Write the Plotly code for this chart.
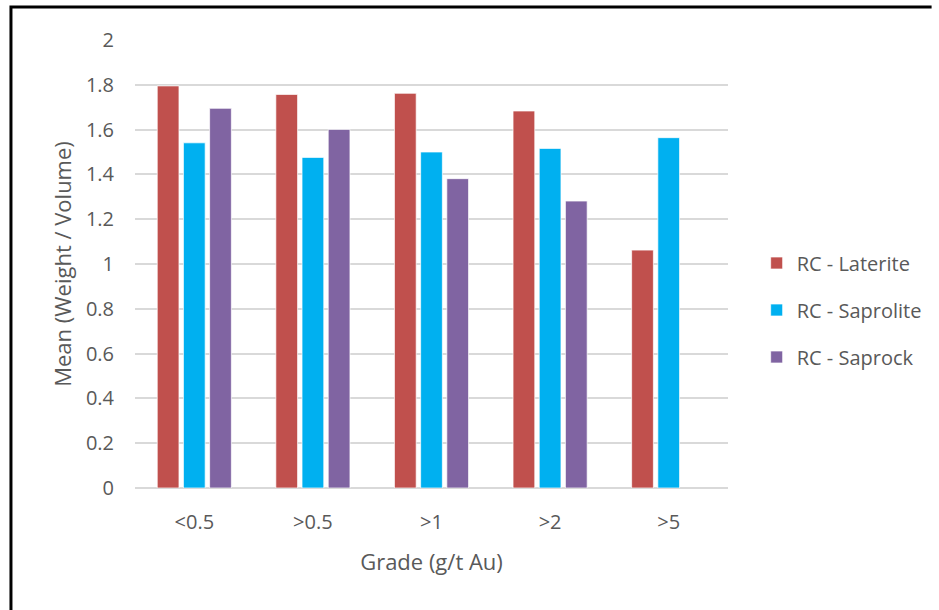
import plotly.graph_objects as go

categories = ["<0.5", ">0.5", ">1", ">2", ">5"]
laterite = [1.795, 1.757, 1.762, 1.683, 1.062]
saprolite = [1.541, 1.476, 1.500, 1.516, 1.564]
saprock = [1.695, 1.601, 1.381, 1.281, None]
series_names = ["RC - Laterite", "RC - Saprolite", "RC - Saprock"]
colors = ["#C0504D", "#00B0F0", "#8064A2"]
y_ticks = [0, 0.2, 0.4, 0.6, 0.8, 1, 1.2, 1.4, 1.6, 1.8, 2]

W, H = 939, 610
L, R, T, B = 135, 735, 40, 488
FONT = "'Open Sans', sans-serif"
GREY = "#595959"

fig = go.Figure()
for i, (name, vals) in enumerate(zip(series_names, [laterite, saprolite, saprock])):
    fig.add_trace(go.Bar(
        x=categories, y=vals, name=name, legendgroup=name,
        marker=dict(color=colors[i], line=dict(color="rgba(255,255,255,0.7)", width=1)),
    ))

def px_x(p):
    return (p - L) / (R - L)

def px_y(p):
    return (B - p) / (B - T)

fig.add_shape(type="path", xref="paper", yref="paper",
              path=f"M {px_x(9.5)} {px_y(612)} L {px_x(9.5)} {px_y(7)} L {px_x(941)} {px_y(7)}",
              line=dict(color="black", width=3))

fig.update_layout(
    width=W, height=H,
    margin=dict(l=L, r=W - R, t=T, b=H - B),
    paper_bgcolor="white", plot_bgcolor="white",
    barmode="group", bargap=0.3375, bargroupgap=0.17,
    hovermode=False,
    font=dict(family=FONT, color=GREY, size=20),
    showlegend=True,
    legend=dict(x=px_x(764), y=px_y(310), xanchor="left", yanchor="middle",
                font=dict(size=20, color=GREY), traceorder="grouped",
                tracegroupgap=18, itemwidth=30),
    xaxis=dict(showgrid=False, showline=False, ticks="outside", ticklen=16,
               tickcolor="rgba(0,0,0,0)", tickfont=dict(size=20, color=GREY),
               title=dict(text="Grade (g/t Au)", font=dict(size=22, color=GREY), standoff=20)),
    yaxis=dict(range=[0, 2], tickvals=y_ticks, ticktext=[f"{v:g}" for v in y_ticks],
               showgrid=True, gridcolor="#D9D9D9", gridwidth=2,
               zeroline=True, zerolinecolor="#D9D9D9", zerolinewidth=2,
               showline=False, ticks="outside", ticklen=16, tickcolor="rgba(0,0,0,0)",
               tickfont=dict(size=20, color=GREY),
               title=dict(text="Mean (Weight / Volume)", font=dict(size=22, color=GREY), standoff=8)),
)

fig.write_html(
    "out.html",
    config={"displayModeBar": False},
    post_script="document.body.style.margin='0';document.body.style.overflow='hidden';",
)
